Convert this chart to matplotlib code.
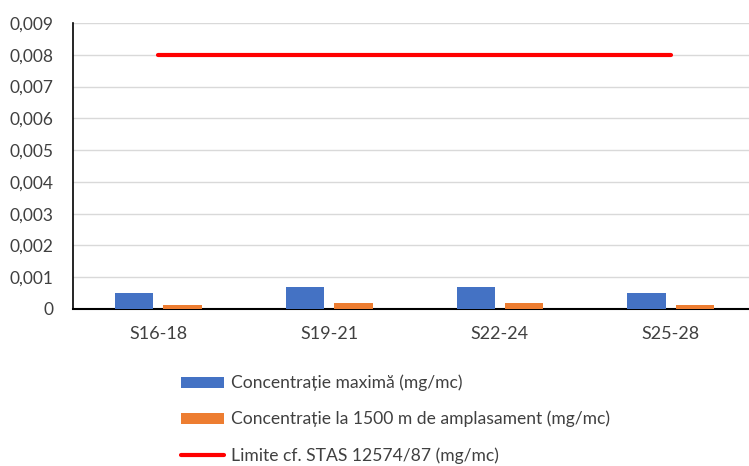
import numpy as np
import matplotlib
matplotlib.use('Agg')
from matplotlib import pyplot as plt
from matplotlib.ticker import FuncFormatter, MultipleLocator

plt.rcParams['font.family'] = ['Lato', 'DejaVu Sans']

# sampling intervals and measured concentrations (mg/mc)
categories = ['S16-18', 'S19-21', 'S22-24', 'S25-28']
conc_max = [0.0005, 0.0007, 0.0007, 0.0005]
conc_1500 = [0.00013, 0.00019, 0.00019, 0.00013]
limit = [0.008, 0.008, 0.008, 0.008]

label_max = 'Concentrație maximă (mg/mc)'
label_1500 = 'Concentrație la 1500 m de amplasament (mg/mc)'
label_limit = 'Limite cf. STAS 12574/87 (mg/mc)'

blue = '#4472c4'
orange = '#ed7d31'
text_color = '#404040'

fig = plt.figure(figsize=(7.49, 4.66), dpi=100)
ax = fig.add_axes([0.0975, 0.337, 0.912, 0.6137])

x = np.arange(len(categories))
w = 0.225
b1 = ax.bar(x - 0.1415, conc_max, width=w, color=blue, label=label_max, zorder=3)
b2 = ax.bar(x + 0.1415, conc_1500, width=w, color=orange, label=label_1500, zorder=3)
ln, = ax.plot(x, limit, color='#ff0000', lw=3, solid_capstyle='round',
              label=label_limit, zorder=4)

ax.set_xlim(-0.5, len(categories) - 0.5)
ax.set_ylim(0, 0.009)
ax.yaxis.set_major_locator(MultipleLocator(0.001))
ax.yaxis.set_major_formatter(FuncFormatter(
    lambda v, p: '0' if abs(v) < 1e-12 else f'{v:.3f}'.replace('.', ',')))
ax.set_xticks(x)
ax.set_xticklabels(categories)

ax.grid(axis='y', color='#d9d9d9', lw=1, zorder=0)
ax.set_axisbelow(True)
for s in ['top', 'right']:
    ax.spines[s].set_visible(False)
ax.spines['left'].set_color('black')
ax.spines['bottom'].set_color('black')
ax.spines['left'].set_linewidth(1.2)
ax.spines['bottom'].set_linewidth(1.5)
ax.tick_params(axis='both', length=0, colors=text_color)
ax.tick_params(axis='y', pad=14, labelsize=12.5)
ax.tick_params(axis='x', pad=12, labelsize=13)

fig.legend(handles=[b1, b2, ln], labels=[label_max, label_1500, label_limit],
           loc='upper left', bbox_to_anchor=(0.241, 0.196), frameon=False,
           fontsize=12.6, labelcolor=text_color, handlelength=2.5,
           handleheight=0.6, handletextpad=0.4, labelspacing=1.12,
           borderaxespad=0, borderpad=0)

fig.savefig('out.png', dpi=100)
